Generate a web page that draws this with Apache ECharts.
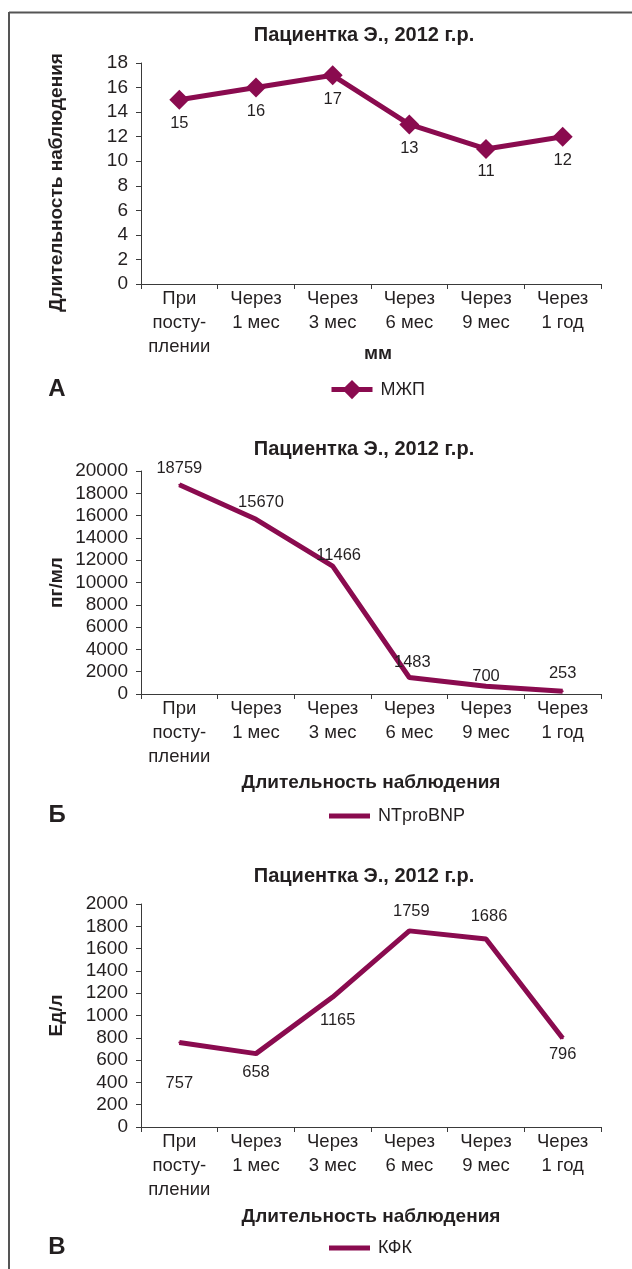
<!DOCTYPE html>
<html><head><meta charset="utf-8">
<script src="https://cdn.jsdelivr.net/npm/echarts@6/dist/echarts.min.js"></script>
<style>html,body{margin:0;padding:0;background:#fff}#c{width:632px;height:1269px}</style>
</head><body><div id="c"></div>
<script>
// ---- data ----
const categories = ['При\nпосту-\nплении', 'Через\n1 мес', 'Через\n3 мес', 'Через\n6 мес', 'Через\n9 мес', 'Через\n1 год'];
const chartTitle = 'Пациентка Э., 2012 г.р.';
const seriesNames = ['МЖП', 'NTproBNP', 'КФК'];
const panelLetters = ['А', 'Б', 'В'];
const yAxisNames = ['Длительность наблюдения', 'пг/мл', 'Ед/л'];
const xAxisNames = ['мм', 'Длительность наблюдения', 'Длительность наблюдения'];
const mzhpValues = [15, 16, 17, 13, 11, 12];
const ntprobnpValues = [18759, 15670, 11466, 1483, 700, 253];
const kfkValues = [757, 658, 1165, 1759, 1686, 796];
const yTicksA = [0, 2, 4, 6, 8, 10, 12, 14, 16, 18];
const yTicksB = [0, 2000, 4000, 6000, 8000, 10000, 12000, 14000, 16000, 18000, 20000];
const yTicksC = [0, 200, 400, 600, 800, 1000, 1200, 1400, 1600, 1800, 2000];

// ---- styling ----
const FONT = '"Liberation Sans", Arial, Helvetica, sans-serif';
const INK = '#231f20';
const COLOR = '#8a0b4f';
const AXIS = '#3a3a3a';
const panels = [
  { top: 63, height: 221, titleY: 35, letterY: 389, legendY: 389, xNameGap: 60, xNamePad: [0, 0, 0, 14], yNamePad: [0, 18, 0, 0], ticks: yTicksA, values: mzhpValues,
    symbol: 'diamond', symbolSize: 20, labelOffsets: [[0,24],[0,24],[0,24],[0,24],[0,23],[0,24]] },
  { top: 471, height: 223, titleY: 449, letterY: 815, legendY: 815, xNameGap: 79, xNamePad: [0, 0, 0, 0], yNamePad: [0, 0, 0, 0], ticks: yTicksB, values: ntprobnpValues,
    symbol: 'none', symbolSize: 0, labelOffsets: [[0,-16],[5,-17],[6,-11],[3,-15],[0,-10],[0,-18]] },
  { top: 904, height: 223, titleY: 876, letterY: 1247, legendY: 1247, xNameGap: 80, xNamePad: [0, 0, 0, 0], yNamePad: [0, 0, 0, 0], ticks: yTicksC, values: kfkValues,
    symbol: 'none', symbolSize: 0, labelOffsets: [[0,41],[0,19],[5,23],[2,-19],[3,-23],[0,16]] }
];

const grids = [], xAxes = [], yAxes = [], series = [], legends = [], graphics = [];
panels.forEach((p, i) => {
  grids.push({ left: 141, right: 31, top: p.top, height: p.height });
  xAxes.push({
    type: 'category', gridIndex: i, data: categories, boundaryGap: true,
    name: xAxisNames[i], nameLocation: 'middle', nameGap: p.xNameGap, nameMoveOverlap: false,
    nameTextStyle: { fontFamily: FONT, fontWeight: 'bold', fontSize: 19, color: INK, padding: p.xNamePad },
    axisLine: { lineStyle: { color: AXIS, width: 1 } },
    axisTick: { show: true, length: 5, lineStyle: { color: AXIS } },
    axisLabel: { fontFamily: FONT, fontSize: 18.5, color: INK, lineHeight: 24, margin: 3, interval: 0 },
    splitLine: { show: false }
  });
  const t = p.ticks;
  yAxes.push({
    type: 'value', gridIndex: i, min: t[0], max: t[t.length - 1], interval: t[1] - t[0],
    name: yAxisNames[i], nameLocation: 'middle', nameGap: 75, nameRotate: 90, nameMoveOverlap: false,
    nameTextStyle: { fontFamily: FONT, fontWeight: 'bold', fontSize: 19, color: INK, padding: p.yNamePad },
    axisLine: { show: true, lineStyle: { color: AXIS, width: 1 } },
    axisTick: { show: true, length: 5, lineStyle: { color: AXIS } },
    axisLabel: { fontFamily: FONT, fontSize: 19, color: INK, margin: 13, formatter: v => String(v) },
    splitLine: { show: false }
  });
  const hasSym = p.symbol !== 'none';
  series.push({
    name: seriesNames[i], type: 'line', xAxisIndex: i, yAxisIndex: i,
    data: p.values.map((v, k) => ({ value: v, label: { offset: p.labelOffsets[k] } })),
    symbol: hasSym ? p.symbol : 'circle', symbolSize: hasSym ? p.symbolSize : 2,
    showSymbol: true,
    itemStyle: { color: COLOR },
    lineStyle: { color: COLOR, width: 5 },
    label: { show: true, position: 'inside', fontFamily: FONT, fontSize: 16.5, color: INK },
    emphasis: { disabled: true },
    animation: false
  });
  legends.push({
    data: [hasSym ? seriesNames[i] : { name: seriesNames[i], icon: 'rect' }],
    left: 329, top: p.legendY - (hasSym ? 9 : 8), padding: 0,
    itemWidth: 41, itemHeight: hasSym ? 24 : 5, itemGap: 5,
    lineStyle: { width: 5 },
    textStyle: { fontFamily: FONT, fontSize: 18, color: INK, padding: [0, 0, 0, 3] },
    selectedMode: false
  });
  graphics.push({
    type: 'text', x: 364, y: p.titleY,
    style: { text: chartTitle, font: 'bold 20px ' + FONT, fill: INK, textAlign: 'center', textVerticalAlign: 'middle' }
  });
  graphics.push({
    type: 'text', x: 57, y: p.letterY,
    style: { text: panelLetters[i], font: 'bold 24px ' + FONT, fill: INK, textAlign: 'center', textVerticalAlign: 'middle' }
  });
});
graphics.push({ type: 'line', shape: { x1: 9, y1: 12.5, x2: 632, y2: 12.5 }, style: { stroke: '#555', lineWidth: 2 } });
graphics.push({ type: 'line', shape: { x1: 9, y1: 12, x2: 9, y2: 1269 }, style: { stroke: '#555', lineWidth: 2 } });

const chart = echarts.init(document.getElementById('c'), null, { renderer: 'canvas' });
chart.setOption({
  backgroundColor: '#fff', animation: false,
  grid: grids, xAxis: xAxes, yAxis: yAxes, series: series, legend: legends, graphic: graphics
});
</script></body></html>
